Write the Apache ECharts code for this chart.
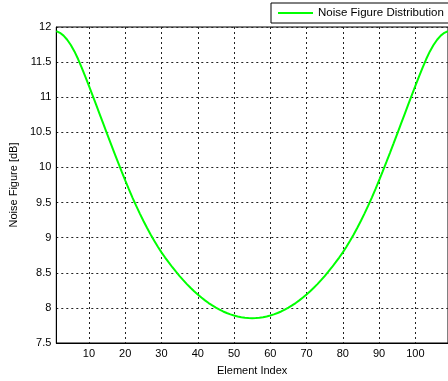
<!DOCTYPE html>
<html>
<head>
<meta charset="utf-8">
<script src="https://cdn.jsdelivr.net/npm/echarts@6/dist/echarts.min.js"></script>
<style>
html,body{margin:0;padding:0;background:#fff;}
#c{width:448px;height:381px;}
</style>
</head>
<body>
<div id="c"></div>
<script>
const seriesName = 'Noise Figure Distribution';
const xTicks = [10, 20, 30, 40, 50, 60, 70, 80, 90, 100];
const yTicks = [7.5, 8, 8.5, 9, 9.5, 10, 10.5, 11, 11.5, 12];
const noiseFigure = [
  11.941, 11.917, 11.877, 11.819, 11.744, 11.652, 11.544, 11.422, 11.294, 11.161,
  11.026, 10.890, 10.753, 10.616, 10.479, 10.343, 10.208, 10.075, 9.944, 9.816,
  9.691, 9.571, 9.456, 9.346, 9.241, 9.141, 9.046, 8.956, 8.871, 8.791,
  8.717, 8.647, 8.579, 8.515, 8.453, 8.395, 8.339, 8.287, 8.237, 8.191,
  8.147, 8.107, 8.069, 8.035, 8.003, 7.975, 7.949, 7.927, 7.907, 7.891,
  7.877, 7.866, 7.859, 7.855,
  7.853,
  7.855, 7.859, 7.866, 7.877, 7.891, 7.907, 7.927, 7.949, 7.975, 8.003,
  8.035, 8.069, 8.107, 8.147, 8.191, 8.237, 8.287, 8.339, 8.395, 8.453,
  8.515, 8.579, 8.647, 8.717, 8.791, 8.871, 8.956, 9.046, 9.141, 9.241,
  9.346, 9.456, 9.571, 9.691, 9.816, 9.944, 10.075, 10.208, 10.343, 10.479,
  10.616, 10.753, 10.890, 11.026, 11.161, 11.294, 11.422, 11.544, 11.652, 11.744,
  11.819, 11.877, 11.917, 11.941
];

const chart = echarts.init(document.getElementById('c'), null, {renderer: 'canvas'});
const font = 'Liberation Sans, Arial, Helvetica, sans-serif';
const grid = {type: [2, 3], color: '#222', width: 1};
chart.setOption({
  backgroundColor: '#fff',
  animation: false,
  textStyle: {fontFamily: font, fontSize: 11, color: '#000'},
  grid: {left: 56, top: 27, width: 397, height: 319, show: true, borderColor: '#000', borderWidth: 1, backgroundColor: 'transparent'},
  legend: {
    data: [{name: seriesName, icon: 'rect'}],
    left: 271, top: 3,
    padding: [4, 14, 4, 7],
    itemWidth: 35, itemHeight: 2,
    backgroundColor: '#fff',
    borderColor: '#000', borderWidth: 1,
    itemStyle: {color: '#00ff00'},
    textStyle: {fontFamily: font, fontSize: 11.5, color: '#000'}
  },
  xAxis: {
    type: 'value', min: 1, max: 109,
    name: 'Element Index', nameLocation: 'middle', nameGap: 22,
    nameTextStyle: {fontFamily: font, fontSize: 11, color: '#000'},
    axisLine: {show: true, lineStyle: {color: '#000', width: 1}},
    axisTick: {show: false, customValues: xTicks},
    axisLabel: {customValues: xTicks, margin: 5, color: '#000', fontFamily: font, fontSize: 11},
    splitLine: {show: true, lineStyle: grid}
  },
  yAxis: {
    type: 'value', min: 7.5, max: 12, interval: 0.5,
    name: 'Noise Figure [dB]', nameLocation: 'middle', nameGap: 33,
    nameTextStyle: {fontFamily: font, fontSize: 11, color: '#000'},
    axisLine: {show: true, lineStyle: {color: '#000', width: 1}},
    axisTick: {show: false},
    axisLabel: {margin: 5, color: '#000', fontFamily: font, fontSize: 11},
    splitLine: {show: true, lineStyle: grid}
  },
  series: [{
    name: seriesName,
    type: 'line',
    data: noiseFigure.map((v, i) => [i + 1, v]),
    showSymbol: false, symbol: 'none',
    smooth: false,
    lineStyle: {color: '#00ff00', width: 2},
    itemStyle: {color: '#00ff00'}
  }]
});
</script>
</body>
</html>
